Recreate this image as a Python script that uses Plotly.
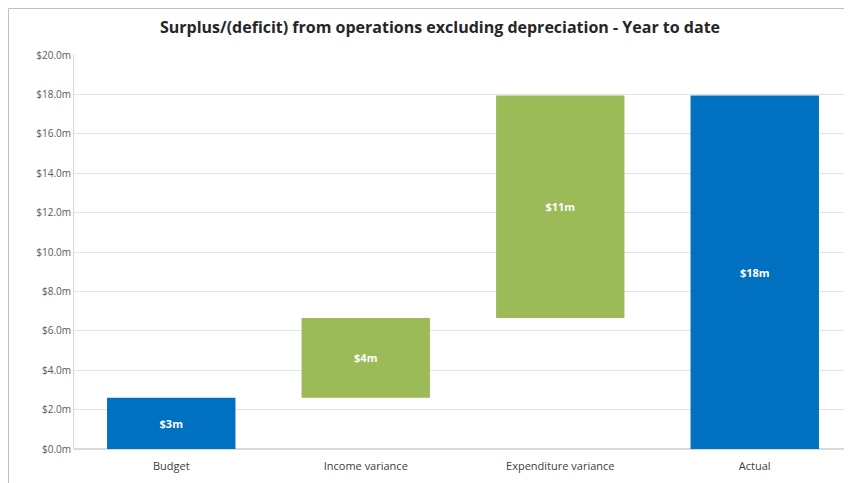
import plotly.graph_objects as go

categories = ["Budget", "Income variance", "Expenditure variance", "Actual"]
measures = ["absolute", "relative", "relative", "total"]
values = [2.6, 4.05, 11.3, 0]
labels = ["$3m", "$4m", "$11m", "$18m"]
tick_vals = [0, 2, 4, 6, 8, 10, 12, 14, 16, 18, 20]
tick_text = ["$%.1fm" % v for v in tick_vals]

fig = go.Figure(go.Waterfall(
    x=categories,
    measure=measures,
    y=values,
    text=labels,
    texttemplate="<b>%{text}</b>",
    textposition="inside",
    insidetextanchor="middle",
    textfont=dict(color="white", size=11, family="Open Sans"),
    increasing=dict(marker=dict(color="#9BBB59")),
    decreasing=dict(marker=dict(color="#C0504D")),
    totals=dict(marker=dict(color="#0070C0")),
    connector=dict(visible=False),
    width=0.66,
))

L, R, T, B = 66, 8, 47, 42
pw = 852 - L - R
ph = 483 - T - B

fig.update_layout(
    width=852, height=483,
    margin=dict(l=L, r=R, t=T, b=B),
    paper_bgcolor="white", plot_bgcolor="white",
    showlegend=False,
    title=dict(
        text="<b>Surplus/(deficit) from operations excluding depreciation - Year to date</b>",
        x=432/852, xanchor="center", y=1 - 19/483, yanchor="middle",
        font=dict(size=16, color="#262626", family="Open Sans"),
    ),
    font=dict(family="Open Sans", size=10, color="#595959"),
    xaxis=dict(showgrid=False, showline=False, ticks="", ticklabelstandoff=9,
               tickfont=dict(size=11, color="#404040")),
    yaxis=dict(
        range=[0, 20], tickvals=tick_vals, ticktext=tick_text,
        showgrid=True, gridcolor="#E3E3E3", gridwidth=1,
        showline=True, linecolor="#D9D9D9", linewidth=1,
        zeroline=True, zerolinecolor="#D9D9D9",
        tickfont=dict(size=10, color="#595959"),
    ),
    shapes=[dict(type="rect", xref="paper", yref="paper",
                 x0=-L/pw + 0.5/pw, x1=1.1, y0=-0.2, y1=1 + (T - 0.5)/ph,
                 line=dict(color="#BFBFBF", width=1), fillcolor="rgba(0,0,0,0)", layer="above")],
)

fig.write_html("out.html")
